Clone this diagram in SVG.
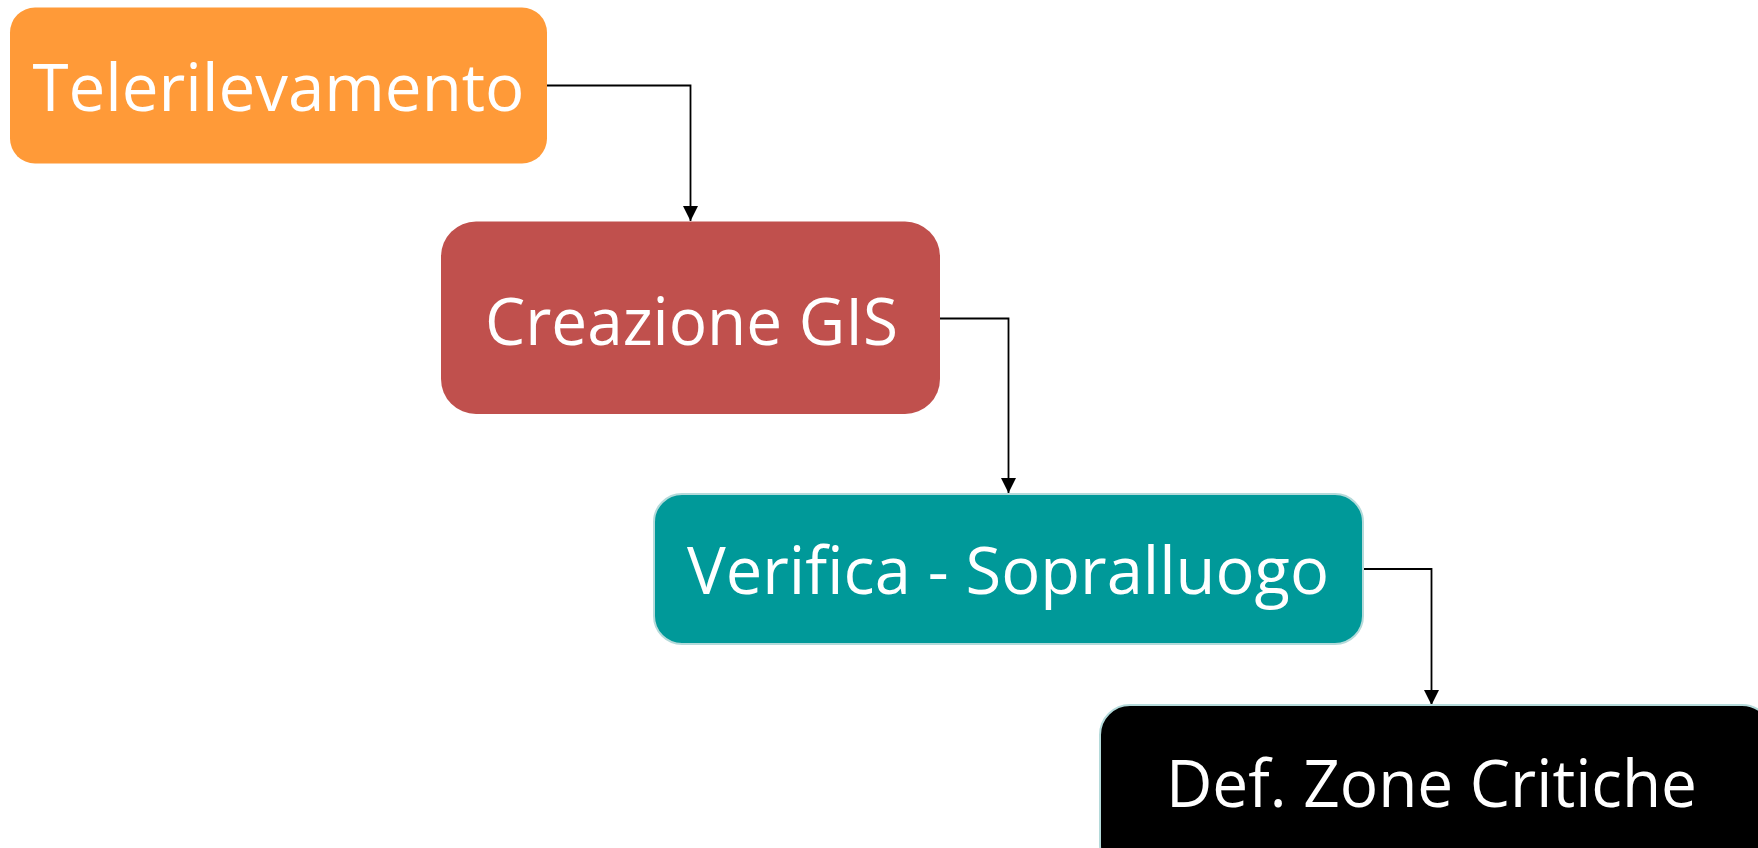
<svg xmlns="http://www.w3.org/2000/svg" width="1758" height="848" viewBox="0 0 1758 848">
  <style>
    .label { font-family: "Open Sans", "Liberation Sans", sans-serif; font-size: 66px; fill: #ffffff; text-anchor: middle; }
    .conn { fill: none; stroke: #000000; stroke-width: 1.8; }
    .edge { stroke: #b4dada; stroke-width: 2; }
  </style>
  <defs>
    <marker id="arrow" markerUnits="userSpaceOnUse" markerWidth="15" markerHeight="15" viewBox="0 0 15 15" refX="15" refY="7.5" orient="auto">
      <path d="M0,0 L15,7.5 L0,15 Z" fill="#000000"/>
    </marker>
  </defs>
  <rect width="1758" height="848" fill="#ffffff"/>
  <g id="connectors">
    <path class="conn" d="M546.5,85.5 H690.5 V221" marker-end="url(#arrow)"/>
    <path class="conn" d="M940,318.5 H1008.5 V493" marker-end="url(#arrow)"/>
    <path class="conn" d="M1363,569 H1431.5 V705" marker-end="url(#arrow)"/>
  </g>
  <g id="node-telerilevamento">
    <rect x="10" y="7.5" width="537" height="156" rx="25" fill="#ff9a38"/>
    <text class="label" x="278.5" y="111" textLength="492" lengthAdjust="spacingAndGlyphs">Telerilevamento</text>
  </g>
  <g id="node-creazione-gis">
    <rect x="441" y="221.5" width="499" height="192.5" rx="35" fill="#c0504d"/>
    <text class="label" x="691.5" y="345" textLength="413" lengthAdjust="spacingAndGlyphs">Creazione GIS</text>
  </g>
  <g id="node-verifica">
    <rect class="edge" x="654" y="494" width="709" height="150" rx="28" fill="#009999"/>
    <text class="label" x="1008" y="593.5" textLength="642" lengthAdjust="spacingAndGlyphs">Verifica - Sopralluogo</text>
  </g>
  <g id="node-zone-critiche">
    <rect class="edge" x="1100" y="705" width="672" height="170" rx="30" fill="#000000"/>
    <text class="label" x="1431.5" y="807" textLength="531" lengthAdjust="spacingAndGlyphs">Def. Zone Critiche</text>
  </g>
</svg>
